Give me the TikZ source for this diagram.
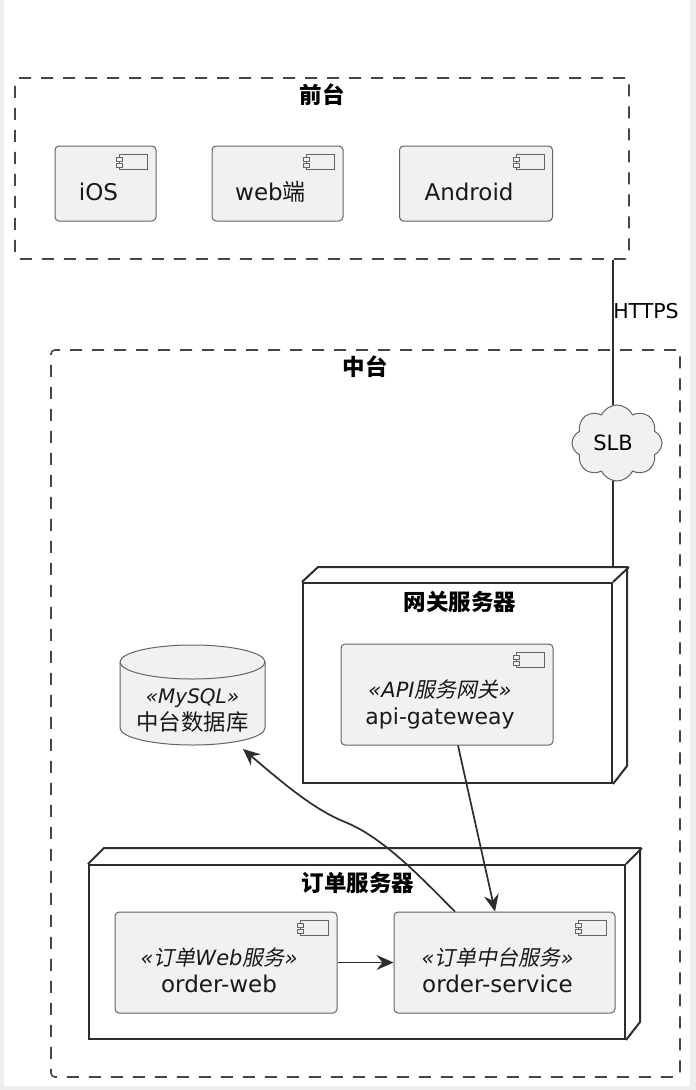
\documentclass[tikz,border=0pt]{standalone}
\usepackage{fontspec}
\setmainfont{DejaVu Sans}
\newfontfamily\cjk{Noto Sans CJK SC}
\newfontfamily\cjkit[FakeSlant=0.2]{Noto Sans CJK SC}
\usetikzlibrary{arrows.meta,positioning,calc,shapes.symbols}
\definecolor{linecolor}{RGB}{45,45,45}
\definecolor{dashcolor}{RGB}{70,70,70}
\definecolor{boxborder}{RGB}{100,100,100}
\definecolor{boxfill}{RGB}{241,241,241}
\definecolor{marginfill}{RGB}{238,238,238}
\newcommand{\namefont}{\fontsize{23}{28}\selectfont}
\tikzset{
  groupbox/.style={draw=dashcolor,dash pattern=on 12pt off 10pt,line width=1.6pt,rounded corners=4pt},
  compbox/.style={draw=boxborder,fill=boxfill,rounded corners=4pt,line width=1pt,inner sep=0pt},
  complabel/.style={xshift=-7pt,yshift=-8pt,align=center,font=\fontsize{21}{27}\selectfont,text=black!90},
  serverbox/.style={draw=linecolor,line width=2pt,inner sep=0pt},
  titletext/.style={font=\fontsize{22.5}{26}\selectfont\cjk\bfseries,inner sep=0pt},
  flowarrow/.style={-{Stealth[length=17pt,width=15pt,inset=6pt]},line width=1.7pt,draw=linecolor},
  plainline/.style={line width=1.7pt,draw=linecolor},
  iconline/.style={draw=boxborder,line width=0.9pt,fill=boxfill},
  dbline/.style={draw=boxborder,line width=1pt},
}
\begin{document}
\begin{tikzpicture}[x=1pt,y=-1pt]
  \fill[marginfill] (0,0) rectangle (696,1090);
  \fill[white] (4,0) rectangle (690,1086);
  \useasboundingbox (0,0) rectangle (696,1090);
  % front end
  \node[groupbox,minimum width=614,minimum height=181] (front) at (322,168.5) {};
  \node[titletext] (fronttitle) at (322,95) {前台};
  \node[compbox,minimum width=101,minimum height=75,label={[complabel]center:\namefont iOS}] (ios) at (105.5,183.5) {};
  \node[compbox,minimum width=131,minimum height=75,label={[complabel]center:\namefont web{\cjk 端}},right=55pt of ios] (web) {};
  \node[compbox,minimum width=153,minimum height=75,label={[complabel]center:\namefont Android},right=55.5pt of web] (android) {};
  % middle platform
  \node[groupbox,minimum width=629,minimum height=727] (middle) at (365.5,713.5) {};
  \node[titletext] (middletitle) at (365,367) {中台};
  % gateway server
  \node[serverbox,minimum width=309,minimum height=200] (gateway) at (457.5,683) {};
  \draw[serverbox] (gateway.north west) -- ++(16,-15) -- ++(309,0) -- ++(0,199) -- (gateway.south east);
  \draw[serverbox] (gateway.north east) -- ++(16,-15);
  \node[titletext] (gatewaytitle) at (460,602) {网关服务器};
  \node[compbox,minimum width=212,minimum height=101,label={[complabel,yshift=-2pt]center:{\itshape«API{\cjkit 服务网关}»}\\{\fontsize{22}{28}\selectfont api-gateweay}}] (api) at (447,694.5) {};
  % order server
  \node[serverbox,minimum width=536,minimum height=174] (order) at (357,952) {};
  \draw[serverbox] (order.north west) -- ++(16,-16) -- ++(536,0) -- ++(0,174) -- (order.south east);
  \draw[serverbox] (order.north east) -- ++(16,-16);
  \node[titletext] (ordertitle) at (358,883) {订单服务器};
  \node[compbox,minimum width=222,minimum height=101,label={[complabel]center:{\itshape«{\cjkit 订单}Web{\cjkit 服务}»}\\{\namefont order-web}}] (orderweb) at (226,962.5) {};
  \node[compbox,minimum width=221,minimum height=101,label={[complabel]center:{\itshape«{\cjkit 订单中台服务}»}\\{\namefont order-service}}] (orderservice) at (504.5,962.5) {};
  % database
  \coordinate (dbleft) at (120,662);
  \draw[dbline,fill=boxfill] (dbleft) arc[start angle=180,end angle=0,x radius=72.5pt,y radius=17pt]
    -- ++(0,66) arc[start angle=360,end angle=180,x radius=72.5pt,y radius=17pt] -- cycle;
  \draw[dbline] (dbleft) arc[start angle=180,end angle=360,x radius=72.5pt,y radius=17pt];
  \node[align=center,font=\fontsize{21}{27}\selectfont,text=black!90,inner sep=0pt] (db) at (192.5,711) {{\itshape\fontsize{20}{27}\selectfont«MySQL»}\\{\fontsize{22.4}{28}\selectfont\cjk 中台数据库}};
  % cloud
  \draw[plainline] (gateway.east |- front.south) -- (gateway.east |- 0,405);
  \draw[plainline] (gateway.east |- 0,481) -- (gateway.east |- 0,568);
  \node[cloud,cloud puffs=8,cloud puff arc=130,shape border rotate=22.5,aspect=1.2,draw=boxborder,fill=boxfill,line width=1pt,
    minimum width=90pt,minimum height=76pt,inner sep=0pt,
    label={[xshift=-4pt,font=\fontsize{21}{26}\selectfont]center:SLB}] (slb) at (617,443) {};
  \node[font=\fontsize{20.5}{24}\selectfont,inner sep=0pt] (https) at (646,311) {HTTPS};
  % links
  \draw[flowarrow] (orderweb) -- (orderservice);
  \draw[flowarrow] ($(api.south)+(11,0)$) -- ($(orderservice.north)+(-9.5,0)$);
  \draw[flowarrow] ($(orderservice.north)+(-49.5,0)$) .. controls (425,882) and (385,838) .. (345,822)
    .. controls (315,810) and (285,785) .. (243,749);
  % component icons
  \foreach \comp in {ios,web,android,api,orderweb,orderservice}{
    \draw[iconline] ($(\comp.north east)+(-37,9)$) rectangle ++(28,15);
    \draw[iconline] ($(\comp.north east)+(-40,12)$) rectangle ++(6,3.5);
    \draw[iconline] ($(\comp.north east)+(-40,18)$) rectangle ++(6,3.5);
  }
\end{tikzpicture}
\end{document}
